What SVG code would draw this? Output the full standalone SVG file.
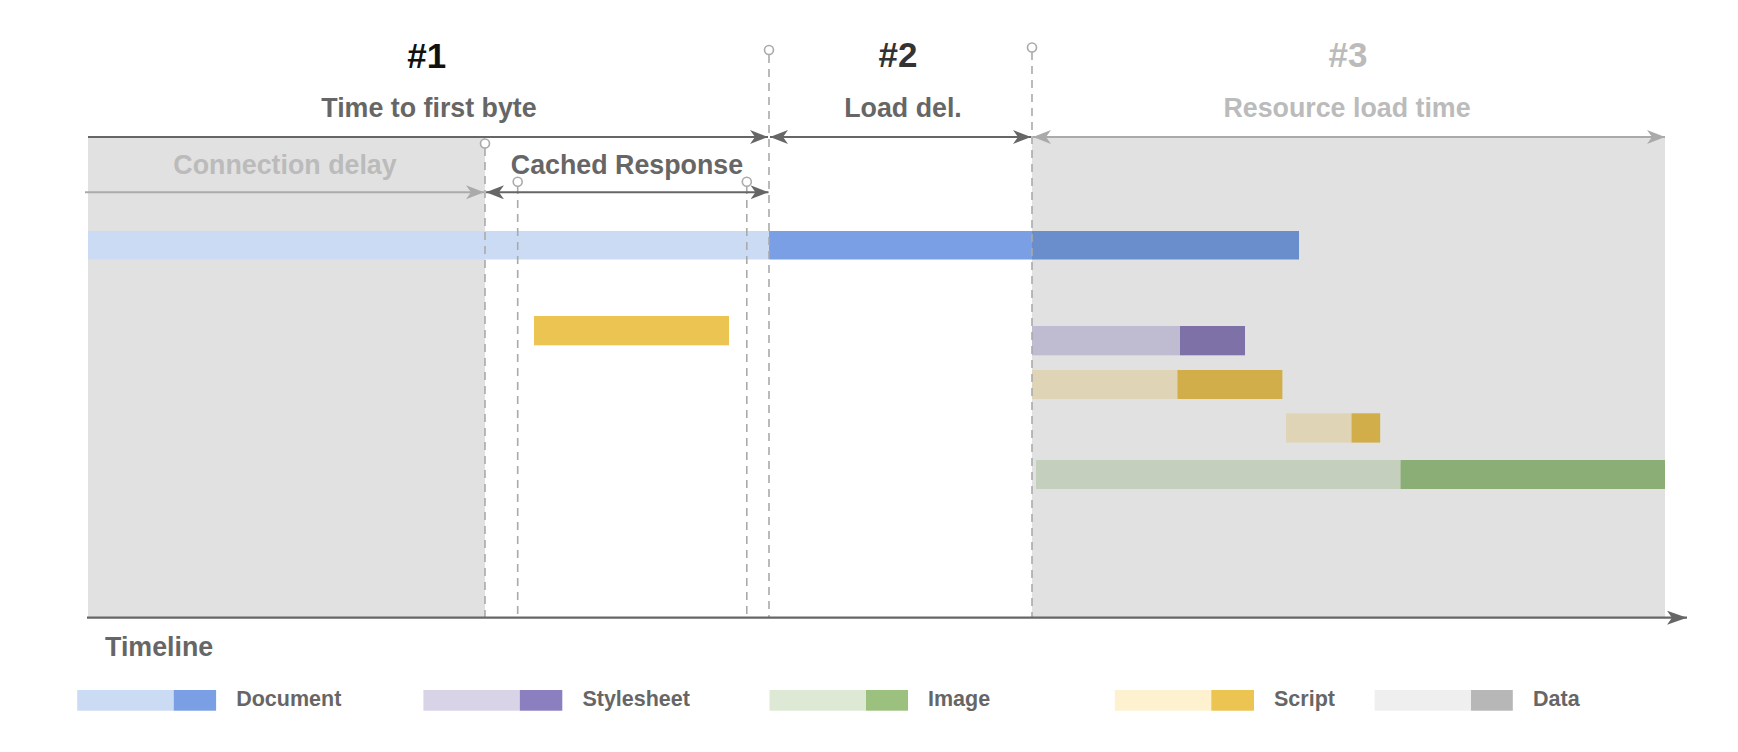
<svg xmlns="http://www.w3.org/2000/svg" width="1738" height="752" viewBox="0 0 1738 752">
<style>
text{font-family:"Liberation Sans",Arial,sans-serif;font-weight:bold}
.hd{font-size:35px;text-anchor:middle}
.lb{font-size:26.8px;text-anchor:middle}
.lg{font-size:21.5px;fill:#666}
.dk{fill:#666}
.lt{fill:#bbb}
.ad{stroke:#666;stroke-width:2;fill:none}
.al{stroke:#aaa;stroke-width:2;fill:none}
.dash{stroke:#aaa;stroke-width:1.6;stroke-dasharray:8 6;fill:none}
.pin{stroke:#aaa;stroke-width:1.6;fill:#fff}
</style>
<defs>
<marker id="ad" markerUnits="userSpaceOnUse" markerWidth="20" markerHeight="16" refX="18" refY="7" orient="auto-start-reverse" viewBox="0 0 20 16"><path d="M0,0 L18,7 L0,14 L5,7 z" fill="#666"/></marker>
<marker id="al" markerUnits="userSpaceOnUse" markerWidth="20" markerHeight="16" refX="18" refY="7" orient="auto-start-reverse" viewBox="0 0 20 16"><path d="M0,0 L18,7 L0,14 L5,7 z" fill="#aaa"/></marker>
<marker id="at" markerUnits="userSpaceOnUse" markerWidth="22" markerHeight="16" refX="20" refY="7" orient="auto" viewBox="0 0 22 16"><path d="M0,0 L20,7 L0,14 L5,7 z" fill="#666"/></marker>
</defs>
<rect width="1738" height="752" fill="#fff"/>
<g id="regions">
<rect x="88" y="137" width="397" height="481" fill="#e1e1e1"/>
<rect x="1032" y="137" width="633" height="481" fill="#e1e1e1"/>
</g>
<g id="bars">
<rect x="88" y="231" width="681" height="28.5" fill="#ccdbf4"/>
<rect x="769" y="231" width="263" height="28.5" fill="#7a9fe4"/>
<rect x="1032" y="231" width="267" height="28.5" fill="#6a8dcb"/>
<rect x="534" y="316" width="195" height="29.3" fill="#ebc452"/>
<rect x="1032" y="326" width="148" height="29.3" fill="#bfbbd0"/>
<rect x="1180" y="326" width="65" height="29.3" fill="#7d71a8"/>
<rect x="1032" y="370" width="145.4" height="29" fill="#e0d4b6"/>
<rect x="1177.4" y="370" width="105" height="29" fill="#d2ae4a"/>
<rect x="1286" y="413.3" width="65.5" height="29.3" fill="#e0d4b6"/>
<rect x="1351.5" y="413.3" width="28.7" height="29.3" fill="#d2ae4a"/>
<rect x="1036" y="460" width="364.5" height="29" fill="#c4cfbd"/>
<rect x="1400.5" y="460" width="264.5" height="29" fill="#8bad76"/>
</g>
<g id="markers-lines">
<line class="dash" x1="485" y1="148" x2="485" y2="617"/>
<line class="dash" x1="517.7" y1="186" x2="517.7" y2="617"/>
<line class="dash" x1="746.8" y1="186" x2="746.8" y2="617"/>
<line class="dash" x1="769" y1="55" x2="769" y2="617"/>
<line class="dash" x1="1032" y1="52" x2="1032" y2="617"/>
<circle class="pin" cx="485" cy="143.5" r="4.5"/>
<circle class="pin" cx="517.7" cy="181.7" r="4.5"/>
<circle class="pin" cx="746.8" cy="181.7" r="4.5"/>
<circle class="pin" cx="769" cy="50" r="4.5"/>
<circle class="pin" cx="1032" cy="47.5" r="4.5"/>
</g>
<g id="connectors">
<line class="ad" x1="88" y1="137" x2="768" y2="137" marker-end="url(#ad)"/>
<line class="ad" x1="770" y1="137" x2="1031" y2="137" marker-start="url(#ad)" marker-end="url(#ad)"/>
<line class="al" x1="1033" y1="137" x2="1665" y2="137" marker-start="url(#al)" marker-end="url(#al)"/>
<line class="al" x1="85" y1="192.3" x2="484" y2="192.3" marker-end="url(#al)"/>
<line class="ad" x1="486" y1="192.3" x2="768.5" y2="192.3" marker-start="url(#ad)" marker-end="url(#ad)"/>
<line stroke="#666" stroke-width="2.2" x1="87" y1="617.7" x2="1687" y2="617.7" marker-end="url(#at)"/>
</g>
<g id="headers">
<text class="hd" x="426.7" y="67.5" fill="#111">#1</text>
<text class="hd" x="898" y="66.7" fill="#333">#2</text>
<text class="hd lt" x="1348" y="66.5">#3</text>
<text class="lb dk" x="429" y="117.3">Time to first byte</text>
<text class="lb dk" x="903" y="117.3">Load del.</text>
<text class="lb lt" x="1347" y="117.3">Resource load time</text>
<text class="lb lt" x="285" y="174">Connection delay</text>
<text class="lb dk" x="627" y="173.5">Cached Response</text>
<text class="dk" x="105" y="656" font-size="26.8">Timeline</text>
</g>
<g id="legend">
<g id="legend-document"><rect x="77.2" y="690" width="96.5" height="20.7" fill="#ccdbf4"/><rect x="173.7" y="690" width="42.4" height="20.7" fill="#7a9fe4"/><text class="lg" x="236.2" y="705.7">Document</text></g>
<g id="legend-stylesheet"><rect x="423.4" y="690" width="96.4" height="20.7" fill="#d9d3e8"/><rect x="519.8" y="690" width="42.5" height="20.7" fill="#8b7fc0"/><text class="lg" x="582.4" y="705.7">Stylesheet</text></g>
<g id="legend-image"><rect x="769.5" y="690" width="96.5" height="20.7" fill="#dde9d5"/><rect x="866" y="690" width="42" height="20.7" fill="#9cc17f"/><text class="lg" x="928" y="705.7">Image</text></g>
<g id="legend-script"><rect x="1114.8" y="690" width="96.5" height="20.7" fill="#fdf1d0"/><rect x="1211.3" y="690" width="42.7" height="20.7" fill="#ebc452"/><text class="lg" x="1274" y="705.7">Script</text></g>
<g id="legend-data"><rect x="1374.6" y="690" width="96.4" height="20.7" fill="#efefef"/><rect x="1471" y="690" width="41.8" height="20.7" fill="#b7b7b7"/><text class="lg" x="1533" y="705.7">Data</text></g>
</g>
</svg>
